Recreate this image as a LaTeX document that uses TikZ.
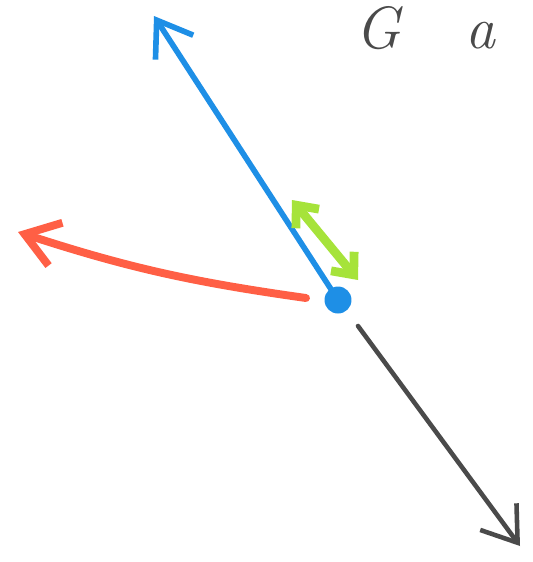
\documentclass[tikz,border=0pt]{standalone}
\usepackage{xcolor}
\usepackage{tikz}
\usetikzlibrary{arrows.meta,positioning}
\definecolor{penblue}{HTML}{1E8FE6}
\definecolor{penred}{HTML}{FF5F45}
\definecolor{pengreen}{HTML}{A6E33A}
\definecolor{pengray}{HTML}{4A4A4A}

\begin{document}
\begin{tikzpicture}[
  x=0.02cm, y=-0.02cm,
  vec/.style   ={line width=#1, line cap=round, line join=round},
  tipbarb/.style={-{Straight Barb[length=6.5mm,width=9mm,line width=#1]}},
  handtext/.style={font=\fontsize{34}{34}\selectfont\itshape, text=pengray, inner sep=1pt},
]
  \useasboundingbox (0,0) rectangle (532,562);

  % origin of the vectors
  \node[circle, fill=penblue, inner sep=0pt, minimum size=5.4mm] (dot) at (338,300) {};

  \coordinate (bluetip)   at (154,16);
  \coordinate (redstart)  at (306,298);
  \coordinate (redtip)    at (18,232);
  \coordinate (graystart) at (358,326);
  \coordinate (graytip)   at (520,546);
  \coordinate (greena)    at (292,200);
  \coordinate (greenb)    at (358,280);

  % velocity and forces
  \draw[vec=3.2pt, penblue, tipbarb=3.2pt] (dot.center) -- (bluetip);
  \draw[vec=4.5pt, penred, tipbarb=4.5pt] (redstart) to[out=172, in=-18] (redtip);
  \draw[vec=2.6pt, pengray, tipbarb=2.6pt] (graystart) -- (graytip);
  \draw[vec=5pt, pengreen, {Straight Barb[length=3.5mm,width=6mm,line width=5pt]}-{Straight Barb[length=3.5mm,width=6mm,line width=5pt]}] (greena) -- (greenb);

  % handwriting at the top
  \node[handtext, anchor=base] (lettera) at (378,48) {G};
  \node[handtext, anchor=base] (letterb) at (480,48) {a};
\end{tikzpicture}
\end{document}
